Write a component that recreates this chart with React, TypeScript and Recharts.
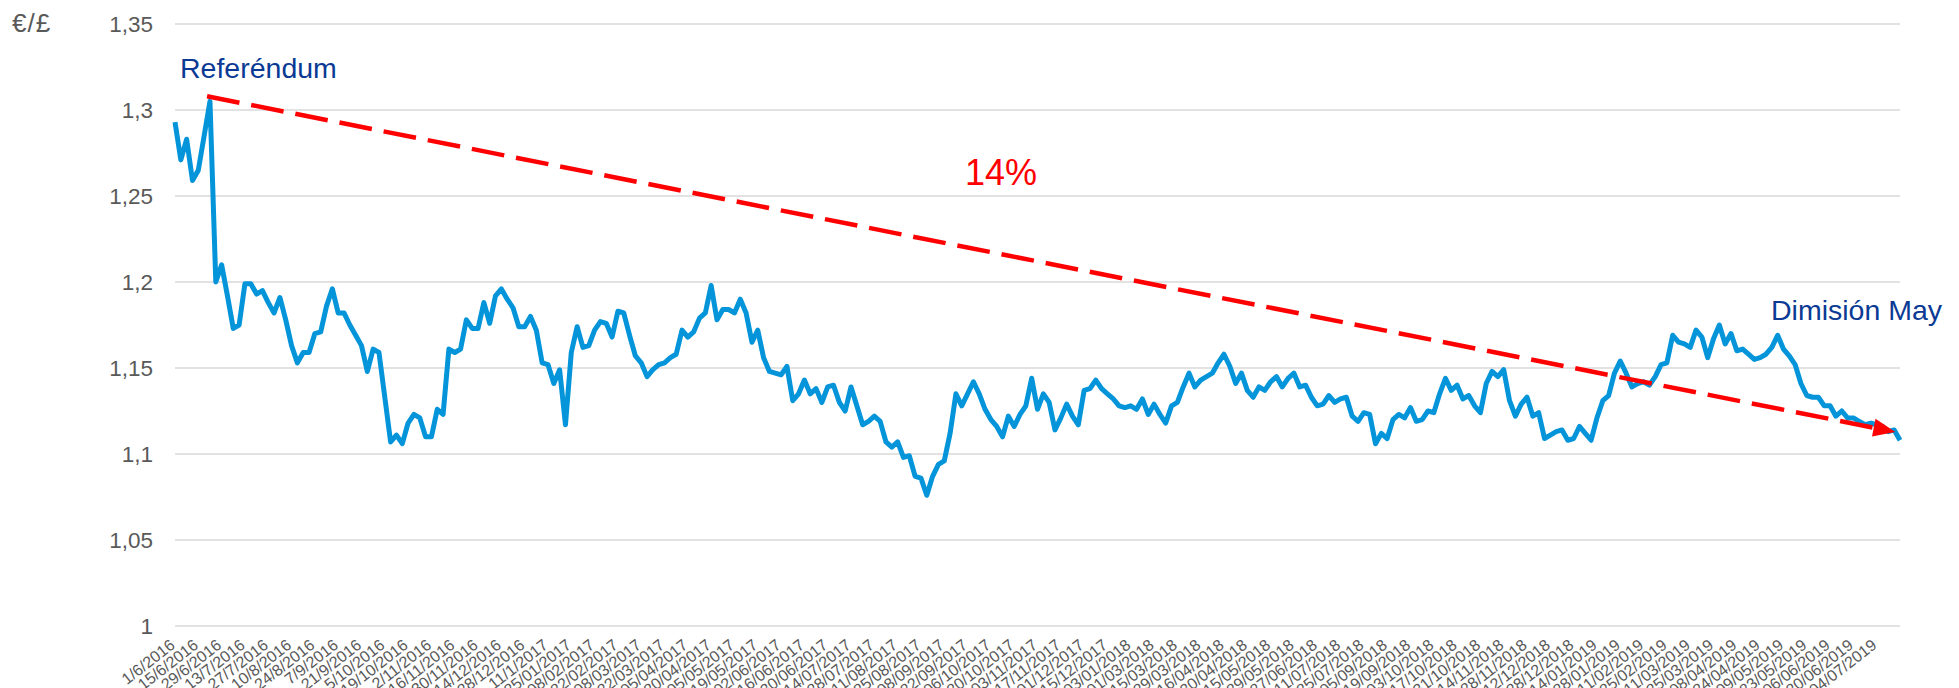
import { LineChart, Line, XAxis, YAxis, CartesianGrid, ReferenceLine } from 'recharts';

// Tick labels under the x axis, one every 4 data points
const dateLabels = [
    '1/6/2016', '15/6/2016', '29/6/2016', '13/7/2016', '27/7/2016', '10/8/2016', '24/8/2016', '7/9/2016',
    '21/9/2016', '5/10/2016', '19/10/2016', '2/11/2016', '16/11/2016', '30/11/2016', '14/12/2016', '28/12/2016',
    '11/1/2017', '25/01/2017', '08/02/2017', '22/02/2017', '08/03/2017', '22/03/2017', '05/04/2017', '20/04/2017',
    '05/05/2017', '19/05/2017', '02/06/2017', '16/06/2017', '30/06/2017', '14/07/2017', '28/07/2017', '11/08/2017',
    '25/08/2017', '08/09/2017', '22/09/2017', '06/10/2017', '20/10/2017', '03/11/2017', '17/11/2017', '01/12/2017',
    '15/12/2017', '03/01/2018', '01/03/2018', '15/03/2018', '29/03/2018', '16/04/2018', '30/04/2018', '15/05/2018',
    '29/05/2018', '27/06/2018', '11/07/2018', '25/07/2018', '05/09/2018', '19/09/2018', '03/10/2018', '17/10/2018',
    '31/10/2018', '14/11/2018', '28/11/2018', '12/12/2018', '28/12/2018', '14/01/2019', '28/01/2019', '11/02/2019',
    '25/02/2019', '11/03/2019', '25/03/2019', '08/04/2019', '24/04/2019', '09/05/2019', '23/05/2019', '06/06/2019',
    '20/06/2019', '04/07/2019',
];

const POINTS_PER_LABEL = 4;

// EUR per GBP
const eurGbp = [
    1.293, 1.271, 1.283, 1.259, 1.265, 1.285, 1.305, 1.2, 1.21, 1.192,
    1.173, 1.175, 1.199, 1.199, 1.193, 1.195, 1.188, 1.182, 1.191, 1.178,
    1.163, 1.153, 1.159, 1.159, 1.17, 1.171, 1.186, 1.196, 1.182, 1.182,
    1.175, 1.169, 1.163, 1.148, 1.161, 1.159, 1.133, 1.107, 1.111, 1.106,
    1.118, 1.123, 1.121, 1.11, 1.11, 1.126, 1.123, 1.161, 1.159, 1.161,
    1.178, 1.173, 1.173, 1.188, 1.176, 1.192, 1.196, 1.19, 1.185, 1.174,
    1.174, 1.18, 1.172, 1.153, 1.152, 1.141, 1.149, 1.117, 1.159, 1.174,
    1.162, 1.163, 1.172, 1.177, 1.176, 1.168, 1.183, 1.182, 1.169, 1.157,
    1.153, 1.145, 1.149, 1.152, 1.153, 1.156, 1.158, 1.172, 1.168, 1.171,
    1.179, 1.182, 1.198, 1.178, 1.184, 1.184, 1.182, 1.19, 1.182, 1.165,
    1.172, 1.156, 1.148, 1.147, 1.146, 1.151, 1.131, 1.135, 1.143, 1.135,
    1.138, 1.13, 1.139, 1.14, 1.13, 1.125, 1.139, 1.128, 1.117, 1.119,
    1.122, 1.119, 1.107, 1.104, 1.107, 1.098, 1.099, 1.087, 1.086, 1.076,
    1.087, 1.094, 1.096, 1.112, 1.135, 1.128, 1.135, 1.142, 1.135, 1.126,
    1.12, 1.116, 1.11, 1.122, 1.116, 1.123, 1.128, 1.144, 1.126, 1.135,
    1.13, 1.114, 1.121, 1.129, 1.122, 1.117, 1.137, 1.138, 1.143, 1.138,
    1.135, 1.132, 1.128, 1.127, 1.128, 1.126, 1.132, 1.123, 1.129, 1.123,
    1.118, 1.128, 1.13, 1.139, 1.147, 1.139, 1.143, 1.145, 1.147, 1.153,
    1.158, 1.151, 1.141, 1.147, 1.137, 1.133, 1.139, 1.137, 1.142, 1.145,
    1.139, 1.144, 1.147, 1.139, 1.14, 1.133, 1.128, 1.129, 1.134, 1.13,
    1.132, 1.133, 1.122, 1.119, 1.124, 1.123, 1.106, 1.112, 1.109, 1.12,
    1.123, 1.121, 1.127, 1.119, 1.12, 1.125, 1.124, 1.135, 1.144, 1.137,
    1.14, 1.132, 1.134, 1.128, 1.124, 1.141, 1.148, 1.145, 1.149, 1.131,
    1.122, 1.129, 1.133, 1.122, 1.124, 1.109, 1.111, 1.113, 1.114, 1.108,
    1.109, 1.116, 1.112, 1.108, 1.121, 1.131, 1.134, 1.147, 1.154, 1.147,
    1.139, 1.141, 1.142, 1.14, 1.145, 1.152, 1.153, 1.169, 1.165, 1.164,
    1.162, 1.172, 1.168, 1.156, 1.167, 1.175, 1.164, 1.17, 1.16, 1.161,
    1.158, 1.155, 1.156, 1.158, 1.162, 1.169, 1.161, 1.157, 1.152, 1.141,
    1.134, 1.133, 1.133, 1.128, 1.128, 1.122, 1.125, 1.121, 1.121, 1.119,
    1.117, 1.118, 1.117, 1.116, 1.113, 1.114, 1.108,
];

const yTicks = [1, 1.05, 1.1, 1.15, 1.2, 1.25, 1.3, 1.35];

// trend arrow from the referendum peak to May's resignation
const trendFrom = { x: 5.5, y: 1.308 };
const trendTo = { x: 295.2, y: 1.1128 };

const FONT = '"Liberation Sans", Arial, sans-serif';
const AXIS_GREY = '#595959';
const BLUE = '#0494DA';
const RED = '#FF0000';
const NAVY = '#0A3A94';

const data = eurGbp.map((rate, i) => ({ i, rate }));
const xTicks = dateLabels.map((_, k) => k * POINTS_PER_LABEL);

const DateTick = ({ x, y, payload }: any) => {
    const label = dateLabels[Math.round(payload.value / POINTS_PER_LABEL)];
    return (
        <g transform={`translate(${x + 1},${y + 21})`}>
            <text textAnchor="end" transform="rotate(-38)" fontSize={16} fill={AXIS_GREY} fontFamily={FONT}>
                {label}
            </text>
        </g>
    );
};

const TrendArrow = (props: any) => {
    const { x1, y1, x2, y2 } = props;
    const a = Math.atan2(y2 - y1, x2 - x1);
    const len = 22;
    const half = 9;
    const bx = x2 - len * Math.cos(a);
    const by = y2 - len * Math.sin(a);
    const px = -Math.sin(a) * half;
    const py = Math.cos(a) * half;
    return (
        <g>
            <line x1={x1} y1={y1} x2={bx} y2={by} stroke={RED} strokeWidth={4.5} strokeDasharray="33 12" />
            <polygon points={`${x2},${y2} ${bx + px},${by + py} ${bx - px},${by - py}`} fill={RED} />
        </g>
    );
};

const App = () => {
    return (
        <div style={{ position: 'absolute', left: 0, top: 0, width: 1959, height: 688, background: '#fff' }}>
            <LineChart width={1959} height={688} data={data} margin={{ top: 24, right: 59, bottom: 0, left: 0 }}>
                <CartesianGrid vertical={false} stroke="#D9D9D9" strokeWidth={1.5} />
                <XAxis
                    type="number"
                    dataKey="i"
                    domain={[0, eurGbp.length - 1]}
                    ticks={xTicks}
                    interval={0}
                    axisLine={false}
                    tickLine={false}
                    tickSize={0}
                    tickMargin={0}
                    height={62}
                    tick={<DateTick />}
                />
                <YAxis
                    domain={[1, 1.35]}
                    ticks={yTicks}
                    interval={0}
                    width={175}
                    axisLine={false}
                    tickLine={false}
                    tickSize={0}
                    tickMargin={22}
                    tickFormatter={(v) => String(v).replace('.', ',')}
                    tick={{ fontSize: 22.5, fill: AXIS_GREY, fontFamily: FONT }}
                />
                <Line
                    type="linear"
                    dataKey="rate"
                    stroke={BLUE}
                    strokeWidth={5}
                    strokeLinejoin="round"
                    dot={false}
                    isAnimationActive={false}
                />
                <ReferenceLine
                    segment={[trendFrom, trendTo]}
                    stroke={RED}
                    shape={<TrendArrow />}
                />
            </LineChart>
            <svg width={1959} height={688} style={{ position: 'absolute', left: 0, top: 0, pointerEvents: 'none' }}>
                <text x={12} y={32} fontSize={26} fill={AXIS_GREY} fontFamily={FONT} letterSpacing={1}>€/£</text>
                <text x={180} y={78} fontSize={28.5} fill={NAVY} fontFamily={FONT}>Referéndum</text>
                <text x={1001} y={185} fontSize={36} fill={RED} fontFamily={FONT} textAnchor="middle">14%</text>
                <text x={1771} y={320} fontSize={28.5} fill={NAVY} fontFamily={FONT}>Dimisión May</text>
            </svg>
        </div>
    );
};

export default App;
